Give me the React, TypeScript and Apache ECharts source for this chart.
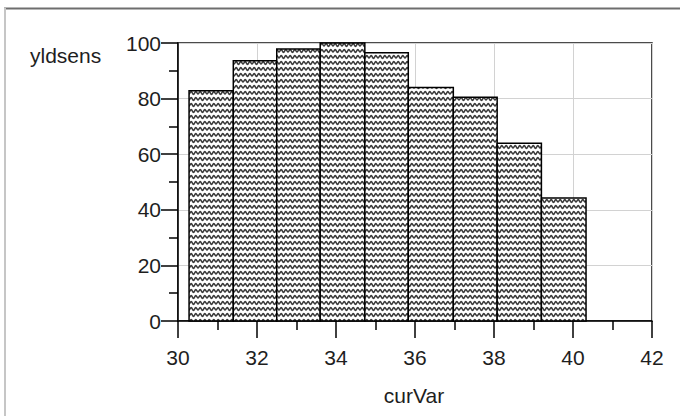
import React, { useEffect, useRef } from "react";
import * as echarts from "echarts";

const binEdges = [30.28, 31.4, 32.5, 33.6, 34.73, 35.83, 36.97, 38.08, 39.2, 40.33];
const binValues = [82.8, 93.6, 97.8, 100, 96.5, 84, 80.5, 63.9, 44.2];
const xTicks = { min: 30, max: 42, interval: 2 };
const yTicks = { min: 0, max: 100, interval: 20 };
const xName = "curVar";
const yName = "yldsens";

function makePattern() {
  const w = 9;
  const h = 6;
  const c = document.createElement("canvas");
  c.width = w;
  c.height = h;
  const ctx = c.getContext("2d")!;
  ctx.fillStyle = "#ffffff";
  ctx.fillRect(0, 0, w, h);
  ctx.strokeStyle = "#3a3a3a";
  ctx.lineWidth = 1.6;
  ctx.lineCap = "butt";
  ctx.beginPath();
  ctx.moveTo(-1, 4.3);
  ctx.bezierCurveTo(1, 4.3, 1.5, 1.5, 2.25, 1.5);
  ctx.bezierCurveTo(3.2, 1.5, 3.5, 4.5, 4.5, 4.5);
  ctx.bezierCurveTo(5.5, 4.5, 5.8, 1.5, 6.75, 1.5);
  ctx.bezierCurveTo(7.5, 1.5, 8, 4.3, 10, 4.3);
  ctx.stroke();
  return { image: c, repeat: "repeat", imageWidth: w, imageHeight: h };
}

export default function App() {
  const ref = useRef<HTMLDivElement>(null);
  useEffect(() => {
    if (!ref.current) return;
    const chart = echarts.init(ref.current, null, { renderer: "svg" });
    const pattern = makePattern();
    const font = "'Liberation Sans', Arial, sans-serif";
    const data = binValues.map((v, i) => [binEdges[i], binEdges[i + 1], v]);
    chart.setOption({
      animation: false,
      backgroundColor: "#ffffff",
      grid: {
        left: 178,
        top: 43,
        right: 28,
        bottom: 95,
        show: true,
        borderColor: "#111",
        borderWidth: 1.5,
        backgroundColor: "transparent",
      },
      xAxis: {
        type: "value",
        min: xTicks.min,
        max: xTicks.max,
        interval: xTicks.interval,
        axisLine: { show: true, onZero: false, lineStyle: { color: "#000", width: 1.5 } },
        axisTick: { show: true, inside: false, length: 17, lineStyle: { color: "#000", width: 1.5 } },
        minorTick: { show: true, splitNumber: 2, length: 9, lineStyle: { color: "#000", width: 1.5 } },
        axisLabel: { margin: 26, color: "#1e1e1e", fontSize: 21, fontFamily: font },
        splitLine: { show: true, lineStyle: { color: "#d2d2d2", width: 1 } },
      },
      yAxis: {
        type: "value",
        min: yTicks.min,
        max: yTicks.max,
        interval: yTicks.interval,
        axisLine: { show: true, lineStyle: { color: "#000", width: 1.5 } },
        axisTick: { show: true, inside: false, length: 17, lineStyle: { color: "#000", width: 1.5 } },
        minorTick: { show: true, splitNumber: 2, length: 9, lineStyle: { color: "#000", width: 1.5 } },
        axisLabel: {
          margin: 17,
          color: "#1e1e1e",
          fontSize: 21,
          fontFamily: font,
          padding: [7, 0, 0, 0],
        },
        splitLine: { show: true, lineStyle: { color: "#d2d2d2", width: 1 } },
      },
      graphic: [
        {
          type: "line",
          shape: { x1: 4, y1: 8.5, x2: 680, y2: 8.5 },
          style: { stroke: "#6e6e6e", lineWidth: 2 },
          silent: true,
        },
        {
          type: "line",
          shape: { x1: 5, y1: 8, x2: 5, y2: 416 },
          style: { stroke: "#c6c6c6", lineWidth: 2 },
          silent: true,
        },
        {
          type: "text",
          x: 30,
          y: 55,
          style: {
            text: yName,
            fontSize: 21,
            fontFamily: font,
            fill: "#1e1e1e",
            align: "left",
            verticalAlign: "middle",
          },
          silent: true,
        },
        {
          type: "text",
          x: 414,
          y: 395,
          style: {
            text: xName,
            fontSize: 21,
            fontFamily: font,
            fill: "#1e1e1e",
            align: "center",
            verticalAlign: "middle",
          },
          silent: true,
        },
      ],
      series: [
        {
          type: "custom",
          data,
          encode: { x: [0, 1], y: 2 },
          renderItem: (params: any, api: any) => {
            const x0 = api.value(0);
            const x1 = api.value(1);
            const y = api.value(2);
            const p0 = api.coord([x0, y]);
            const p1 = api.coord([x1, 0]);
            return {
              type: "rect",
              shape: { x: p0[0], y: p0[1], width: p1[0] - p0[0], height: p1[1] - p0[1] },
              style: { fill: pattern, stroke: "#000", lineWidth: 1.5 },
            };
          },
        },
      ],
    });
    return () => chart.dispose();
  }, []);
  return (
    <div
      ref={ref}
      style={{ position: "fixed", left: 0, top: 0, width: 680, height: 416 }}
    />
  );
}
